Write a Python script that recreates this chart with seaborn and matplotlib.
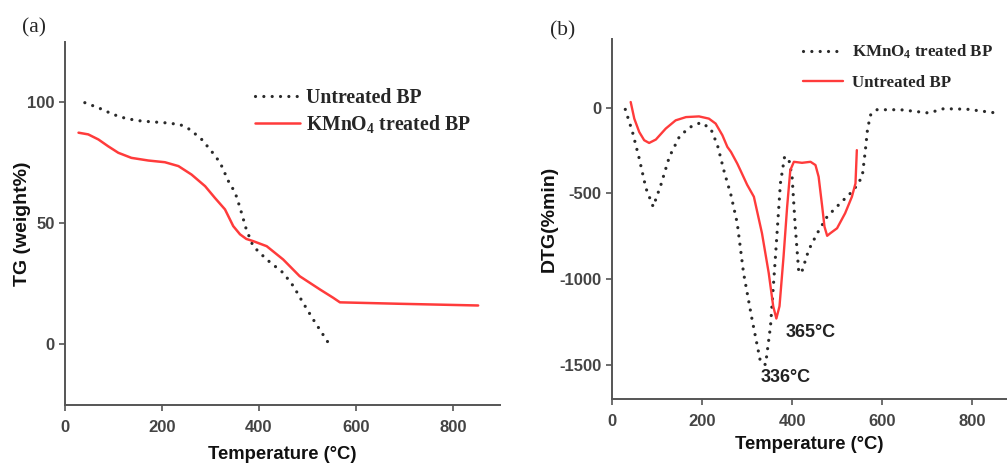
import matplotlib
matplotlib.use("Agg")
import matplotlib.pyplot as plt
import pandas as pd
import seaborn as sns

# (a) TG curves
tg_untreated_T = [41, 69, 100, 127, 158, 206, 237, 258, 282, 302, 320, 337, 351, 361, 374, 388, 416, 450, 471, 491, 512, 543]
tg_untreated_W = [99.9, 97.8, 95.0, 93.3, 92.3, 91.6, 90.9, 88.8, 84.7, 79.9, 75.1, 67.5, 62.7, 56.5, 47.5, 40.6, 35.1, 29.6, 24.1, 17.2, 10.3, 0.7]
tg_treated_T = [28, 48, 69, 89, 110, 137, 172, 206, 234, 261, 289, 309, 330, 347, 361, 374, 388, 416, 450, 484, 526, 553, 567, 691, 852]
tg_treated_W = [87.5, 86.8, 84.7, 81.9, 79.2, 77.1, 76.0, 75.3, 73.7, 70.2, 65.4, 60.6, 55.8, 48.9, 45.5, 43.6, 42.7, 40.6, 35.1, 28.2, 22.7, 19.3, 17.4, 16.8, 16.1]

# (b) DTG curves
dtg_black_T = [29, 45, 60, 75, 91, 108, 127, 149, 171, 197, 219, 234, 249, 264, 278, 292, 311, 330, 341, 352, 363,
               374, 383, 392, 400, 407, 415, 422, 437, 456, 478, 507, 537, 556, 563, 568, 575, 589, 641, 704, 737, 789, 848]
dtg_black_V = [-10, -142, -297, -471, -578, -452, -287, -171, -116, -87, -122, -219, -374, -510, -674, -965, -1237, -1488, -1500, -1275, -869,
               -442, -291, -291, -403, -694, -965, -955, -830, -733, -636, -558, -481, -403, -248, -120, -40, -12, -12, -31, -6, -9, -29]
dtg_red_T = [41, 49, 60, 71, 82, 97, 119, 141, 164, 193, 215, 230, 245, 256, 264, 278, 285, 300, 315, 333, 348, 358, 365, 372,
             381, 389, 396, 404, 422, 441, 452, 459, 467, 472, 478, 485, 500, 518, 533, 541, 544]
dtg_red_V = [33, -64, -142, -190, -206, -186, -122, -74, -55, -51, -64, -93, -161, -229, -258, -326, -365, -450, -520, -733, -965, -1159, -1231, -1159,
             -869, -578, -365, -316, -322, -316, -335, -403, -578, -694, -748, -733, -704, -616, -520, -442, -248]

sns.set_style("ticks")
plt.rcParams["font.family"] = ["Liberation Sans", "DejaVu Sans"]
plt.rcParams["axes.unicode_minus"] = False
plt.rcParams["mathtext.fontset"] = "custom"
plt.rcParams["mathtext.rm"] = "Liberation Serif:bold"
plt.rcParams["mathtext.it"] = "Liberation Serif:bold"
plt.rcParams["mathtext.bf"] = "Liberation Serif:bold"
plt.rcParams["mathtext.default"] = "rm"

dot = (0, (0.01, 2.6))
red = "#ff3b3b"
blk = "#2a2a2a"
legend_font_a = {"family": "Liberation Serif", "weight": "bold", "size": 14.2}
legend_font_b = {"family": "Liberation Serif", "weight": "bold", "size": 12.2}

fig = plt.figure(figsize=(10.07, 4.66), dpi=100)
ax1 = fig.add_axes([0.0645, 0.131, 0.432, 0.779])
ax2 = fig.add_axes([0.608, 0.144, 0.392, 0.772])

df_a1 = pd.DataFrame({"T": tg_untreated_T, "W": tg_untreated_W})
df_a2 = pd.DataFrame({"T": tg_treated_T, "W": tg_treated_W})
sns.lineplot(ax=ax1, data=df_a1, x="T", y="W", sort=False, estimator=None, color=blk,
             linestyle=dot, dash_capstyle="round", linewidth=2.3, label="Untreated BP")
sns.lineplot(ax=ax1, data=df_a2, x="T", y="W", sort=False, estimator=None, color=red,
             linewidth=1.8, label="KMnO$_4$ treated BP")

df_b1 = pd.DataFrame({"T": dtg_black_T, "V": dtg_black_V})
df_b2 = pd.DataFrame({"T": dtg_red_T, "V": dtg_red_V})
sns.lineplot(ax=ax2, data=df_b1, x="T", y="V", sort=False, estimator=None, color=blk,
             linestyle=dot, dash_capstyle="round", linewidth=2.3, label="KMnO$_4$ treated BP")
sns.lineplot(ax=ax2, data=df_b2, x="T", y="V", sort=False, estimator=None, color=red,
             linewidth=1.7, label="Untreated BP")

ax1.set_xlim(0, 897)
ax1.set_ylim(-25, 125)
ax1.set_yticks([0, 50, 100])
ax2.set_xlim(0, 878)
ax2.set_ylim(-1700, 400)
ax2.set_yticks([-1500, -1000, -500, 0])

for ax, yl, ypad, xpad in [(ax1, "TG (weight%)", -3, 8), (ax2, "DTG(%min)", 1, 5)]:
    ax.set_xticks([0, 200, 400, 600, 800])
    sns.despine(ax=ax)
    for s in ["left", "bottom"]:
        ax.spines[s].set_color("#555555")
        ax.spines[s].set_linewidth(1.4)
    ax.tick_params(colors="#555555", labelcolor="#444444", labelsize=12, length=4, width=1.2)
    ax.tick_params(axis="x", pad=7)
    for lab in ax.get_xticklabels() + ax.get_yticklabels():
        lab.set_fontweight("bold")
    ax.set_xlabel("Temperature (°C)", fontsize=13.3, fontweight="bold", color="#111111", labelpad=xpad)
    ax.set_ylabel(yl, fontsize=14, fontweight="bold", color="#111111", labelpad=ypad)

ax1.legend(loc="upper left", bbox_to_anchor=(0.253, 0.812), bbox_transform=fig.transFigure,
           frameon=False, prop=legend_font_a, handlelength=2.3, handletextpad=0.3,
           labelspacing=0.25, borderpad=0, borderaxespad=0)
ax2.legend(loc="upper left", bbox_to_anchor=(0.797, 0.908), bbox_transform=fig.transFigure,
           frameon=False, prop=legend_font_b, handlelength=2.4, handletextpad=0.5,
           labelspacing=0.8, borderpad=0, borderaxespad=0)

ax2.text(330, -1574, "336°C", fontsize=13, fontweight="bold", color="#222222", va="center")
ax2.text(385, -1312, "365°C", fontsize=13, fontweight="bold", color="#222222", va="center")

fig.text(0.022, 0.94, "(a)", fontsize=15.5, family="Liberation Serif", va="center")
fig.text(0.546, 0.933, "(b)", fontsize=15.5, family="Liberation Serif", va="center")

plt.savefig("out.png", dpi=100)
plt.close()
